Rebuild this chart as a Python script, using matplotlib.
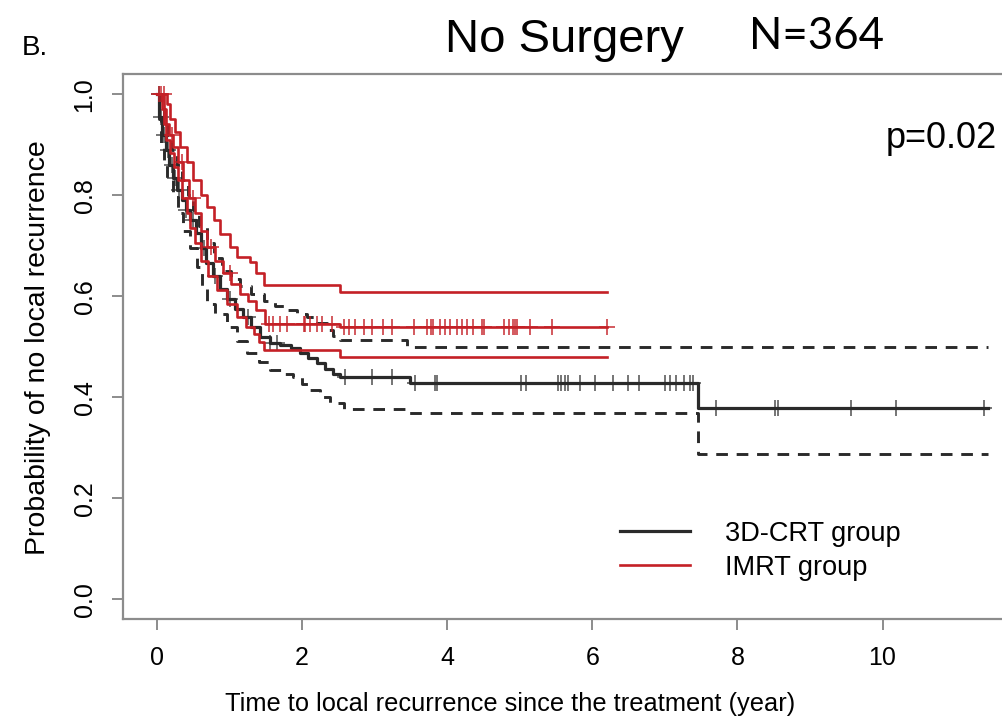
import numpy as np
import matplotlib
matplotlib.use("Agg")
import matplotlib.pyplot as plt

# 3D-CRT group (black): Kaplan-Meier estimate and 95% CI, step points
crt_t = [0, .03, .07, .12, .17, .22, .28, .34, .40, .46, .53, .60, .68, .77, .87, .97,
         1.08, 1.19, 1.30, 1.42, 1.55, 1.70, 1.85, 1.97, 2.08, 2.20, 2.32, 2.43, 2.52,
         3.49, 7.45, 11.45]
crt_s = [1, .955, .92, .89, .86, .835, .81, .79, .77, .75, .725, .695, .665, .64, .615, .595,
         .575, .558, .54, .52, .508, .503, .498, .488, .478, .467, .456, .447, .44,
         .428, .378, .378]
crt_hi_t = [0, .05, .09, .15, .21, .27, .34, .42, .50, .58, .69, .78, .90, 1.02, 1.14, 1.30,
            1.47, 1.62, 1.79, 1.93, 2.06, 2.20, 2.34, 2.43, 2.52, 3.45, 11.45]
crt_hi_s = [1, .975, .95, .92, .89, .86, .83, .80, .77, .74, .705, .675, .65, .635, .62, .605,
            .59, .58, .572, .565, .559, .547, .533, .522, .513, .50, .50]
crt_lo_t = [0, .03, .06, .09, .14, .22, .29, .36, .45, .55, .62, .69, .80, .96, 1.10, 1.24,
            1.40, 1.56, 1.72, 1.88, 2.00, 2.11, 2.25, 2.39, 2.57, 3.45, 7.45, 11.45]
crt_lo_s = [1, .95, .90, .86, .83, .797, .765, .73, .695, .658, .62, .585, .565, .539, .512, .487,
            .47, .453, .446, .44, .427, .414, .40, .388, .377, .368, .287, .287]
crt_cens = [.02, .05, .10, .15, .20, .25, .30, .40, .50, .65, .80, 1.0, 1.25, 1.55, 1.65,
            2.59, 2.96, 3.24, 3.56, 3.83, 3.86, 5.01, 5.09, 5.52, 5.57, 5.62, 5.67, 5.83,
            6.03, 6.28, 6.49, 6.65, 7.0, 7.07, 7.15, 7.26, 7.34, 7.39, 7.71, 8.52, 8.56,
            9.57, 10.18, 11.4]

# IMRT group (red)
imrt_t = [0, .10, .13, .17, .22, .29, .36, .44, .52, .60, .69, .80, .91, 1.02, 1.14, 1.25,
          1.37, 1.49, 2.52, 6.2]
imrt_s = [1, .97, .94, .92, .896, .865, .83, .795, .764, .73, .698, .67, .645, .625, .605, .59,
          .572, .545, .54, .54]
imrt_hi_t = [0, .14, .18, .25, .32, .41, .50, .60, .69, .78, .87, 1.0, 1.10, 1.28, 1.37, 1.47,
             2.52, 6.2]
imrt_hi_s = [1, .98, .95, .925, .896, .865, .83, .80, .777, .75, .724, .698, .678, .668, .645, .622,
             .608, .608]
imrt_lo_t = [0, .07, .09, .13, .18, .23, .29, .35, .41, .46, .52, .60, .70, .82, .96, 1.10,
             1.22, 1.33, 1.40, 1.47, 2.52, 6.2]
imrt_lo_s = [1, .97, .94, .91, .883, .855, .83, .795, .764, .735, .705, .67, .64, .612, .585, .559,
             .54, .526, .51, .493, .479, .479]
imrt_cens = [.03, .06, .09, .20, .35, .50, .75, 1.0, 1.54, 1.60, 1.70, 1.79, 2.02, 2.04, 2.11,
             2.20, 2.27, 2.41, 2.57, 2.64, 2.73, 2.85, 2.96, 3.12, 3.24, 3.54, 3.72, 3.77,
             3.81, 3.90, 3.97, 4.04, 4.13, 4.20, 4.27, 4.36, 4.48, 4.50, 4.78, 4.85, 4.91,
             4.94, 4.96, 5.14, 5.44, 6.20]

black = "#2a2a2a"
red = "#c42026"
spine_col = "#8c8c8c"
rfont = "Liberation Sans"


def at(t, s, c):
    # survival value of a step curve at the censoring times
    idx = np.searchsorted(t, c, side="right") - 1
    return np.asarray(s)[idx]


fig = plt.figure(figsize=(10.03, 7.19), dpi=100)
ax = fig.add_axes([0.1226, 0.1384, 0.8983, 0.7587])

dash = (4, 3)
ax.step(crt_t, crt_s, where="post", color=black, lw=2.3, label="3D-CRT group")
ax.step(crt_hi_t, crt_hi_s, where="post", color=black, lw=2.1, dashes=dash)
ax.step(crt_lo_t, crt_lo_s, where="post", color=black, lw=2.1, dashes=dash)
ax.plot(crt_cens, at(crt_t, crt_s, crt_cens), ls="none", marker="+", ms=11, mew=1.3,
        color=black, alpha=0.7)

ax.step(imrt_t, imrt_s, where="post", color=red, lw=1.9, label="IMRT group")
ax.step(imrt_hi_t, imrt_hi_s, where="post", color=red, lw=1.9)
ax.step(imrt_lo_t, imrt_lo_s, where="post", color=red, lw=1.9)
ax.plot(imrt_cens, at(imrt_t, imrt_s, imrt_cens), ls="none", marker="+", ms=11, mew=1.3,
        color=red, alpha=0.8)

ax.set_xlim(-0.47, 11.95)
ax.set_ylim(-0.04, 1.04)
ax.set_xticks([0, 2, 4, 6, 8, 10])
ax.set_yticks([0.0, 0.2, 0.4, 0.6, 0.8, 1.0])
ax.set_yticklabels(["0.0", "0.2", "0.4", "0.6", "0.8", "1.0"], rotation=90, va="center")
for s in ax.spines.values():
    s.set_color(spine_col)
    s.set_linewidth(1.6)
ax.tick_params(direction="out", length=8, width=1.4, color=spine_col,
               labelsize=18, pad=11)
for lab in ax.get_xticklabels() + ax.get_yticklabels():
    lab.set_fontfamily(rfont)

fig.text(0.509, 0.011, "Time to local recurrence since the treatment (year)",
         fontsize=18.3, family=rfont, ha="center", va="baseline")
fig.text(0.038, 0.517, "Probability of no local recurrence", fontsize=20.5, family=rfont,
         rotation=90, ha="center", va="center")

ax.legend(loc="upper left", bbox_to_anchor=(0.618, 0.276), bbox_transform=fig.transFigure,
          frameon=False, prop={"family": rfont, "size": 19.5}, handlelength=2.6,
          handletextpad=1.3, labelspacing=0.3, borderpad=0, borderaxespad=0)

fig.text(0.994, 0.794, "p=0.02", fontsize=26, family=rfont, ha="right", va="baseline")
fig.text(0.022, 0.924, "B.", fontsize=20, family=rfont, ha="left", va="baseline")
fig.text(0.563, 0.928, "No Surgery", fontsize=34, family=rfont, ha="center", va="baseline")
fig.text(0.747, 0.932, "N=364", fontsize=31.5, family=["Liberation Sans Narrow", "Lato"],
         ha="left", va="baseline")

fig.savefig("out.png", dpi=100)
